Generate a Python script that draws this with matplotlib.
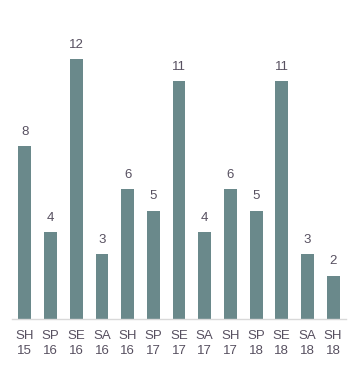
import matplotlib.pyplot as plt

seasons = ["SH", "SP", "SE", "SA", "SH", "SP", "SE", "SA", "SH", "SP", "SE", "SA", "SH"]
years = ["15", "16", "16", "16", "16", "17", "17", "17", "17", "18", "18", "18", "18"]
values = [8, 4, 12, 3, 6, 5, 11, 4, 6, 5, 11, 3, 2]

labels = [s + "\n" + y for s, y in zip(seasons, years)]
bar_color = "#6a898b"
text_color = "#575060"

plt.rcParams["font.family"] = ["Liberation Sans", "DejaVu Sans"]

fig = plt.figure(figsize=(3.51, 3.70), dpi=100)
ax = fig.add_axes([12 / 351, 51 / 370, 334 / 351, 303 / 370])

x = range(len(values))
bars = ax.bar(x, values, width=0.5, color=bar_color)

for xi, v in zip(x, values):
    ax.annotate(str(v), (xi, v), xytext=(0, 6), textcoords="offset points",
                ha="center", va="bottom", fontsize=9.5, color=text_color)

ax.set_xlim(-0.5, len(values) - 0.5)
ax.set_ylim(0, 14)
ax.set_xticks(list(x))
ax.set_xticklabels(labels, fontsize=9.5, color=text_color, linespacing=1.35)
ax.tick_params(axis="x", length=0, pad=8)
ax.set_yticks([])

for side in ["top", "right", "left"]:
    ax.spines[side].set_visible(False)
ax.spines["bottom"].set_color("#d9d9d9")
ax.spines["bottom"].set_linewidth(1)

fig.savefig("out.png", dpi=100)
